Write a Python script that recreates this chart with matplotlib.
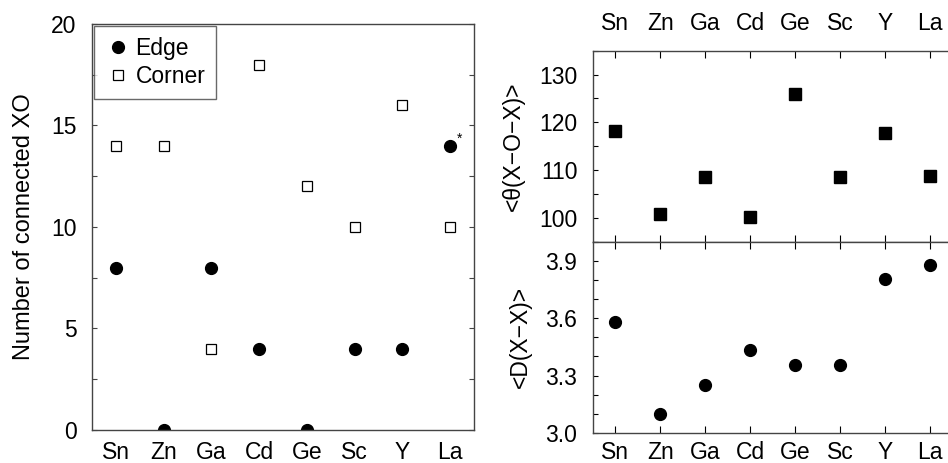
import matplotlib
matplotlib.use("Agg")
from matplotlib import pyplot as plt
from matplotlib.ticker import MultipleLocator

plt.rcParams['font.family'] = ['Liberation Sans', 'DejaVu Sans']

elements = ['Sn', 'Zn', 'Ga', 'Cd', 'Ge', 'Sc', 'Y', 'La']
edge = [8, 0, 8, 4, 0, 4, 4, 14]      # edge-sharing XO
corner = [14, 14, 4, 18, 12, 10, 16, 10]  # corner-sharing XO
theta = [118.1, 100.8, 108.5, 100.2, 125.9, 108.6, 117.8, 108.8]  # <theta(X-O-X)>
dist = [3.579, 3.099, 3.253, 3.436, 3.353, 3.358, 3.803, 3.878]   # <D(X-X)>

x = list(range(len(elements)))
spine_col = '#444444'
fs = 16.5

fig = plt.figure(figsize=(9.48, 4.63), dpi=100)

# panneau de gauche
ax = fig.add_axes([0.0970, 0.0713, 0.4030, 0.8769])
ax.plot(x, edge, 'o', color='black', ms=8.5, label='Edge')
ax.plot(x, corner, 's', mfc='white', mec='black', mew=0.9, ms=7.5, label='Corner')
ax.annotate('*', xy=(x[-1], edge[-1]), xytext=(5, 2), textcoords='offset points',
            fontsize=10)
ax.set_xlim(-0.5, 7.5)
ax.set_ylim(0, 20)
ax.set_xticks(x)
ax.set_xticklabels(elements)
ax.yaxis.set_major_locator(MultipleLocator(5))
ax.yaxis.set_minor_locator(MultipleLocator(2.5))
ax.tick_params(axis='x', length=0, labelsize=fs, pad=8)
ax.tick_params(axis='y', which='both', direction='in', left=True, right=True,
               length=3.5, width=0.8, labelsize=fs, color=spine_col, pad=11)
ax.set_ylabel('Number of connected XO', fontsize=17, labelpad=12)
leg = ax.legend(loc='upper left', fontsize=fs, frameon=True, fancybox=False,
                borderaxespad=0.1, handletextpad=0.15, handlelength=1.2,
                borderpad=0.45, labelspacing=0.25)
leg.get_frame().set_edgecolor(spine_col)
leg.get_frame().set_linewidth(1.0)
for s in ax.spines.values():
    s.set_color(spine_col)
    s.set_linewidth(1.0)

# panneau de droite, haut
ax1 = fig.add_axes([0.6252, 0.4780, 0.3799, 0.4125])
ax1.plot(x, theta, 's', color='black', ms=8)
ax1.set_xlim(-0.5, 7.5)
ax1.set_ylim(95, 135)
ax1.set_xticks(x)
ax1.set_xticklabels(elements)
ax1.yaxis.set_major_locator(MultipleLocator(10))
ax1.yaxis.set_minor_locator(MultipleLocator(5))
ax1.tick_params(axis='x', direction='in', top=True, bottom=True, labeltop=True,
                labelbottom=False, length=5, width=0.8, labelsize=fs, pad=11)
ax1.set_ylabel('<θ(X−O−X)>', fontsize=16.5, labelpad=10)

# panneau de droite, bas
ax2 = fig.add_axes([0.6252, 0.0648, 0.3799, 0.4132])
ax2.plot(x, dist, 'o', color='black', ms=8.5)
ax2.set_xlim(-0.5, 7.5)
ax2.set_ylim(3.0, 4.0)
ax2.set_xticks(x)
ax2.set_xticklabels(elements)
ax2.yaxis.set_major_locator(MultipleLocator(0.3))
ax2.yaxis.set_minor_locator(MultipleLocator(0.1))
ax2.tick_params(axis='x', direction='in', top=True, bottom=True, length=5,
                width=0.8, labelsize=fs, pad=6)
ax2.set_ylabel('<D(X−X)>', fontsize=16.5, labelpad=10)

for a in (ax1, ax2):
    a.tick_params(axis='y', which='both', direction='in', left=True, right=True,
                  length=3.5, width=0.8, labelsize=fs, pad=11)
    for s in a.spines.values():
        s.set_linewidth(1.0)
        s.set_color(spine_col)

fig.savefig('out.png', dpi=100)
